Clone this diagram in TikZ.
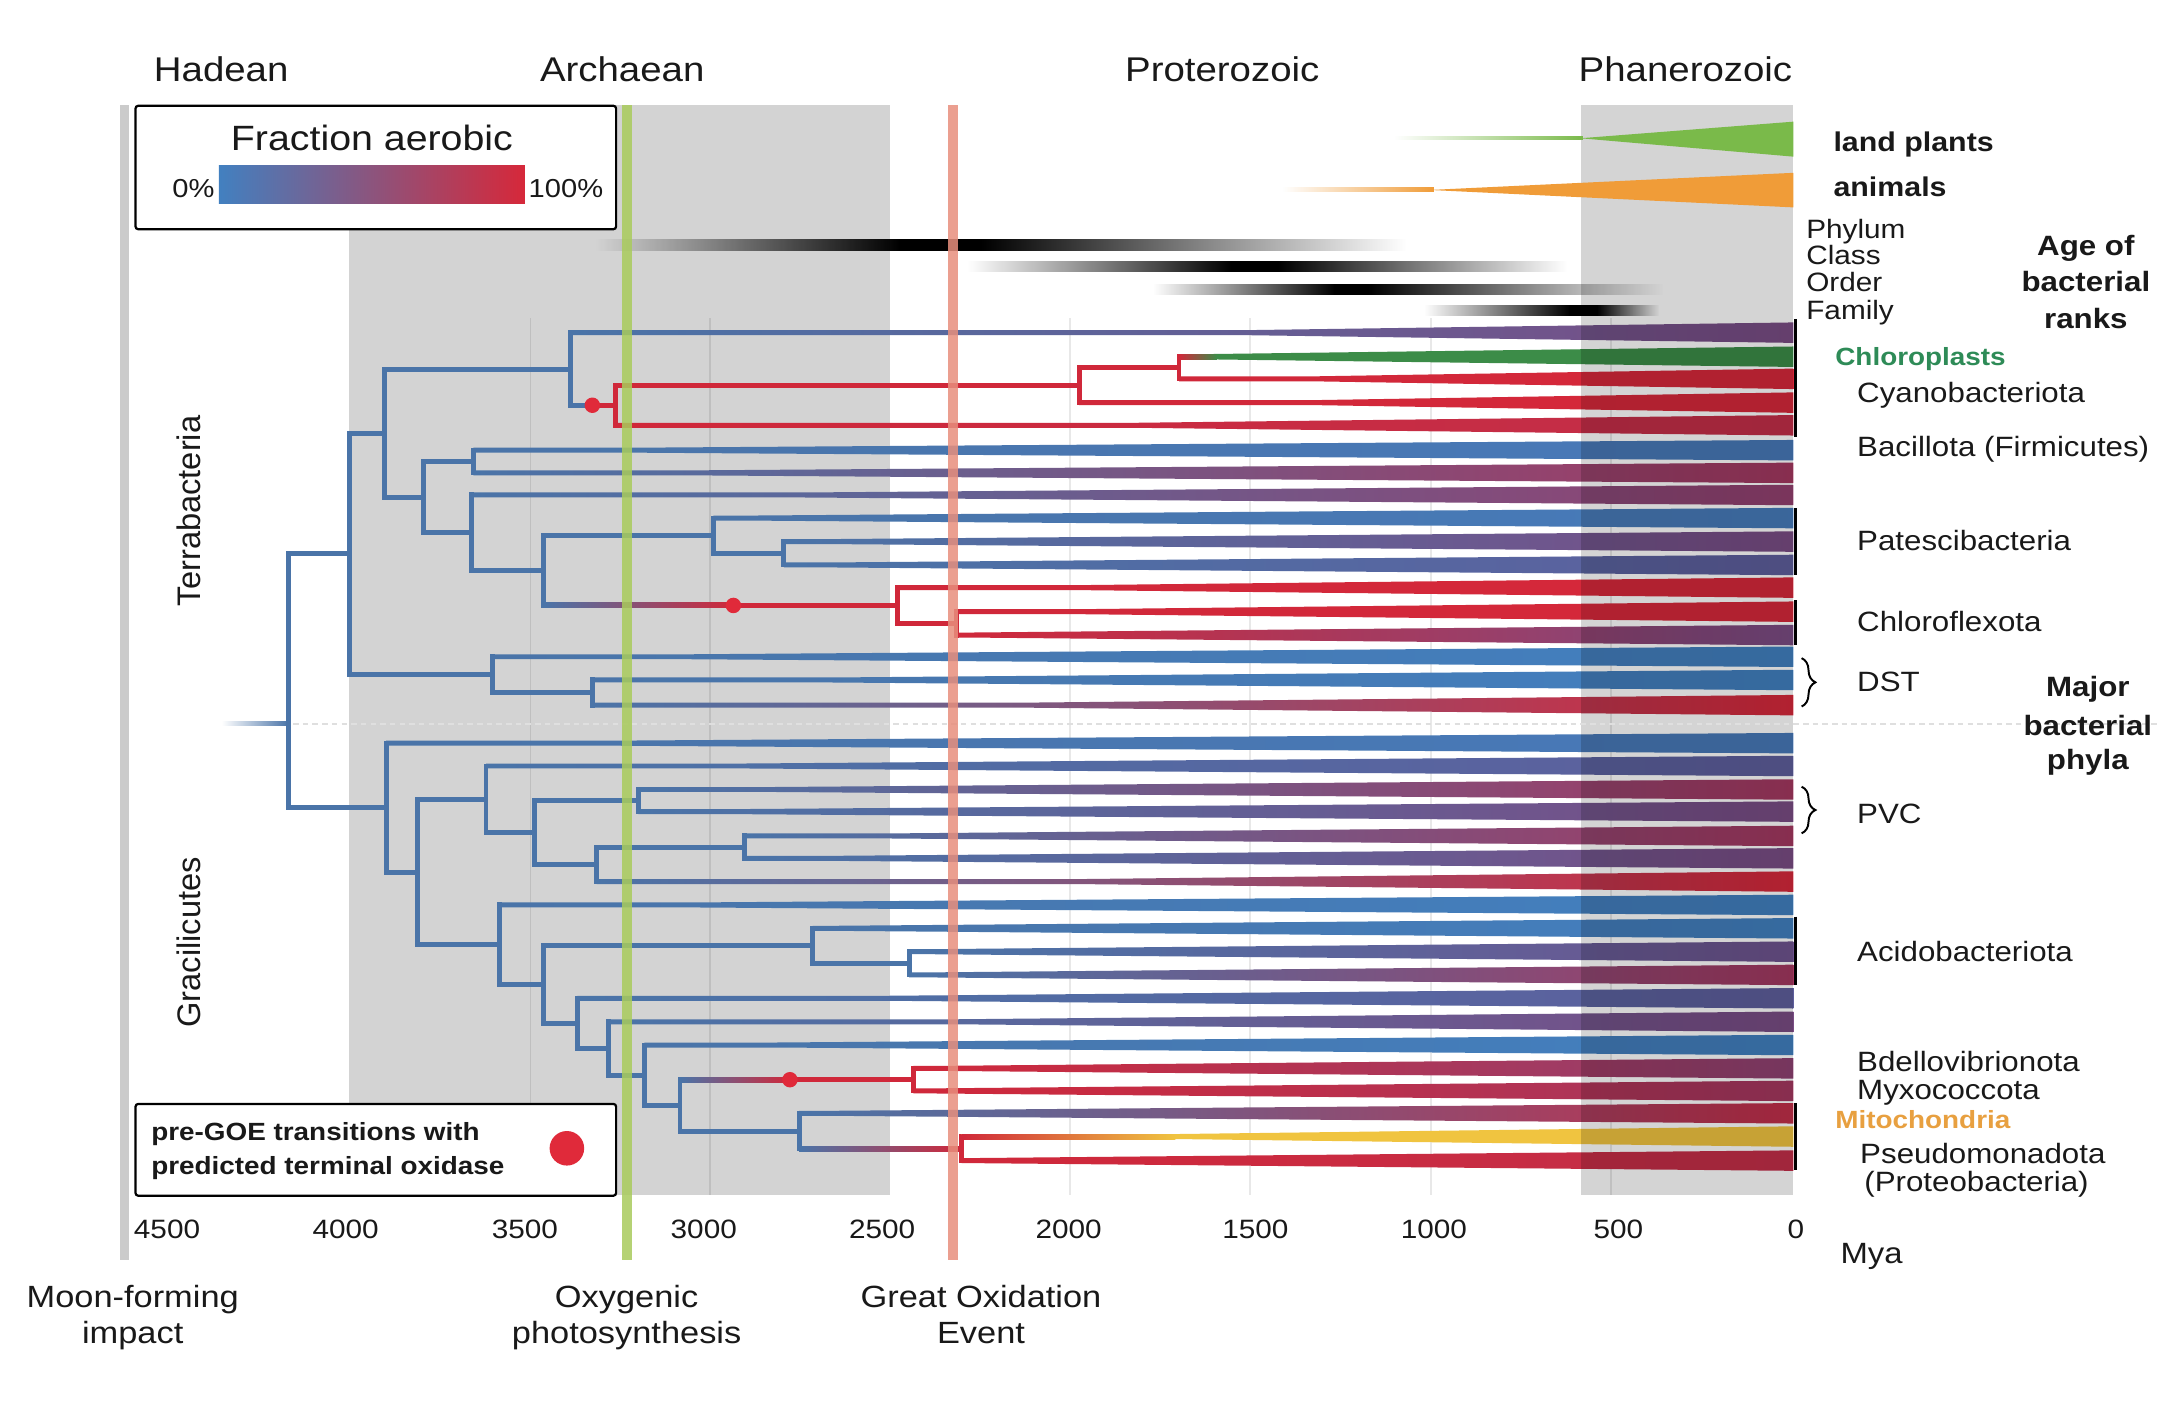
\documentclass[tikz,border=0pt]{standalone}
\usepackage{fontspec}
\setmainfont{Liberation Sans}
\usepackage{graphicx}
\usetikzlibrary{calc,fadings,decorations.pathreplacing}

\definecolor{blueB}{RGB}{74,116,168}
\definecolor{redR}{RGB}{208,40,58}
\definecolor{a0}{RGB}{66,128,192}
\definecolor{a25}{RGB}{94,94,156}
\definecolor{a50}{RGB}{122,76,132}
\definecolor{a75}{RGB}{164,56,96}
\definecolor{a100}{RGB}{214,40,58}
\definecolor{boxgray}{RGB}{211,211,211}
\definecolor{chlgreen}{RGB}{60,140,72}
\definecolor{chltext}{RGB}{46,139,87}
\definecolor{mitoyel}{RGB}{240,196,64}
\definecolor{mitoorg}{RGB}{238,130,50}
\definecolor{mitotext}{RGB}{232,160,64}
\definecolor{lpgreen}{RGB}{122,186,74}
\definecolor{anorange}{RGB}{240,156,56}
\definecolor{oxgreen}{RGB}{169,203,92}
\definecolor{goered}{RGB}{232,143,125}
\definecolor{moongray}{RGB}{203,203,203}
\definecolor{dotred}{RGB}{224,42,58}

\tikzfading[name=fadeL, left color=transparent!100, right color=transparent!0]
\tikzfading[name=fadeR, left color=transparent!0, right color=transparent!100]

\newcommand\sx[1]{\scalebox{1.12}[1]{#1}}
\newcommand\fsz[1]{\fontsize{#1}{#1}\selectfont}
% leaf wedge: #1 parent, #2 leaf, #3 x where widening starts, #4 start colour, #5 end colour
\newcommand\lw[5]{%
  \draw[br,#4] (#1) -- (#1 |- #2);
  \shade[left color=#4,right color=#5]
    ($(#1 |- #2)+(0,-1.8)$) -- ($(#2)+({#3-1297},-1.8)$) -- ($(#2)+(0,-7.4)$)
    -- ($(#2)+(0,7.4)$) -- ($(#2)+({#3-1297},1.8)$) -- ($(#1 |- #2)+(0,1.8)$) -- cycle;}

\begin{document}
\begin{tikzpicture}[x=0.5pt,y=-0.5pt,
  br/.style={line width=1.8pt,line cap=rect,line join=miter},
  txt/.style={inner sep=0pt,anchor=base,text=black!90},
  reddot/.style={circle,fill=dotred,inner sep=0pt,minimum size=5.6pt},
  legbox/.style={draw=black,line width=0.8pt,fill=white,rounded corners=1pt},
  evline/.style={line width=3.7pt,opacity=0.85},
  gridln/.style={draw=black,draw opacity=0.09,line width=0.5pt},
  brc/.style={decorate,decoration={brace,amplitude=5pt},line width=0.7pt}]

\useasboundingbox[fill=white] (0,0) rectangle (1568,1031);

% Archaean background
\fill[boxgray] (252.3,76) rectangle (643.5,864.3);
% grid lines
\foreach \gx in {383.5,513.5,774,904,1035,1165}
  \draw[gridln] (\gx,230) -- (\gx,864);

% ---------- tree coordinates ----------
\foreach \i/\y in {0/240.6,1/258,2/274,3/291.2,4/307.6,5/325.6,6/342,7/358,8/374.7,
  9/391.7,10/408.6,11/425,12/442.4,13/459.3,14/475,15/491.8,16/510,
  17/537.5,18/554,19/571,20/587,21/604.6,22/620.8,23/637.6,24/654.5,25/671.4,
  26/688.3,27/705.1,28/722,29/739,30/755.8,31/772.7,32/789,33/805.2,34/822,35/839.4}
  \coordinate (L\i) at (1297,\y);

\coordinate (R) at (208.5,523.5);
\coordinate (T) at (252.5,400.6);
\coordinate (A) at (278,313.2);
\coordinate (B) at (412.7,266.9);
\coordinate (Cy) at (445.5,293.1);
\coordinate (Cy2) at (780.4,278.6);
\coordinate (Cy3) at (852.7,266);
\coordinate (C) at (306,359.6);
\coordinate (Ba) at (342.3,333.8);
\coordinate (E) at (341,385.3);
\coordinate (F) at (393.4,412.7);
\coordinate (G) at (516,387.4);
\coordinate (H) at (567,400.2);
\coordinate (Ch) at (649.2,437.9);
\coordinate (Ch2) at (692,450.9);
\coordinate (D1) at (356.3,488);
\coordinate (D2) at (428.4,500.9);
\coordinate (Gr) at (279.2,584.1);
\coordinate (P1) at (301.8,630.7);
\coordinate (P2) at (351.5,578);
\coordinate (P3) at (386.4,602.1);
\coordinate (P4) at (461.7,579);
\coordinate (P5) at (431.5,625.2);
\coordinate (P6) at (538.3,612.7);
\coordinate (Q1) at (361,683.3);
\coordinate (Q2) at (393.4,712.1);
\coordinate (Ac) at (587.8,684);
\coordinate (Ac2) at (657.6,696.7);
\coordinate (Q3) at (417.5,740.2);
\coordinate (Q4) at (440,758.3);
\coordinate (Q5) at (466,777.6);
\coordinate (Q6) at (491.8,799.4);
\coordinate (My) at (660.6,780.9);
\coordinate (Ps) at (577.9,818);
\coordinate (Mi) at (695.5,830.7);
\coordinate (d1) at (428.4,293.1);
\coordinate (d2) at (530.4,437.9);
\coordinate (d3) at (571.3,780.9);

% ---------- leaf wedges ----------
\lw{B}{L0}{900}{blueB}{a50}
% chloroplasts
\draw[br,redR] (Cy3) -- (Cy3 |- L1);
\fill[chlgreen] ($(Cy3 |- L1)+(0,-1.8)$) -- ($(L1)+({865-1297},-1.8)$) -- ($(L1)+(0,-7.4)$)
  -- ($(L1)+(0,7.4)$) -- ($(L1)+({865-1297},1.8)$) -- ($(Cy3 |- L1)+(0,1.8)$) -- cycle;
\shade[left color=redR,right color=chlgreen] ($(Cy3 |- L1)+(0,-1.8)$) rectangle ($(L1)+({880-1297},1.8)$);
\lw{Cy3}{L2}{950}{redR}{a100}
\lw{Cy2}{L3}{950}{redR}{a100}
\lw{Cy}{L4}{820}{redR}{a75!40!a100}
\lw{Ba}{L5}{460}{blueB}{a0!80!a25}
\lw{Ba}{L6}{500}{blueB}{a75}
\lw{E}{L7}{580}{blueB}{a75!60!a50}
\lw{G}{L8}{540}{blueB}{a0!85!a25}
\lw{H}{L9}{600}{blueB}{a50}
\lw{H}{L10}{600}{blueB}{a25}
\lw{Ch}{L11}{780}{redR}{a100}
\lw{Ch2}{L12}{780}{redR}{a100}
\lw{Ch2}{L13}{700}{redR}{a50}
\lw{D1}{L14}{500}{blueB}{a0}
\lw{D2}{L15}{600}{blueB}{a0}
\lw{D2}{L16}{740}{blueB}{a100}
\lw{Gr}{L17}{440}{blueB}{a0!80!a25}
\lw{P2}{L18}{540}{blueB}{a25}
\lw{P4}{L19}{560}{blueB}{a75}
\lw{P4}{L20}{530}{blueB}{a50}
\lw{P6}{L21}{640}{blueB}{a75}
\lw{P6}{L22}{600}{blueB}{a50}
\lw{P5}{L23}{780}{blueB}{a100}
\lw{Q1}{L24}{500}{blueB}{a0}
\lw{Ac}{L25}{600}{blueB}{a0}
\lw{Ac2}{L26}{670}{blueB}{a50!60!a25}
\lw{Ac2}{L27}{670}{blueB}{a75}
\lw{Q3}{L28}{640}{blueB}{a25}
\lw{Q4}{L29}{690}{blueB}{a50}
\lw{Q5}{L30}{560}{blueB}{a0}
\lw{My}{L31}{680}{redR}{a50!50!a75}
\lw{My}{L32}{670}{redR}{a75}
\lw{Ps}{L33}{600}{blueB}{a75!40!a100}
% mitochondria
\draw[br,redR] (Mi) -- (Mi |- L34);
\fill[mitoyel] ($(Mi |- L34)+(0,-1.8)$) -- ($(L34)+({850-1297},-1.8)$) -- ($(L34)+(0,-7.4)$)
  -- ($(L34)+(0,7.4)$) -- ($(L34)+({850-1297},1.8)$) -- ($(Mi |- L34)+(0,1.8)$) -- cycle;
\shade[left color=redR,middle color=mitoorg,right color=mitoyel] ($(Mi |- L34)+(0,-1.8)$) rectangle ($(L34)+({850-1297},1.8)$);
\lw{Mi}{L35}{700}{redR}{a75!40!a100}

% ---------- interior branches ----------
\foreach \p/\c in {R/T,R/Gr,T/A,T/D1,A/B,A/C,C/Ba,C/E,E/F,F/G,G/H,D1/D2,Gr/P1,P1/P2,P1/Q1,
  P2/P3,P3/P4,P3/P5,P5/P6,Q1/Q2,Q2/Ac,Q2/Q3,Ac/Ac2,Q3/Q4,Q4/Q5,Q5/Q6,Q6/Ps}
  \draw[br,blueB] (\p) |- (\c);
\foreach \p/\c in {Cy/Cy2,Cy2/Cy3,Ch/Ch2}
  \draw[br,redR] (\p) |- (\c);
% branches changing colour
\draw[br,blueB] (B) |- (d1);
\draw[br,redR] (d1) -- (Cy);
\draw[br,blueB] (F) -- (F |- Ch);
\shade[left color=blueB,right color=redR] ($(F |- Ch)+(0,-1.8)$) rectangle ($(d2)+(0,1.8)$);
\draw[br,redR] (d2) -- (Ch);
\draw[br,blueB] (Q6) -- (Q6 |- My);
\shade[left color=blueB,right color=redR] ($(Q6 |- My)+(0,-1.8)$) rectangle ($(d3)+(0,1.8)$);
\draw[br,redR] (d3) -- (My);
\draw[br,blueB] (Ps) -- (Ps |- Mi);
\shade[left color=blueB,right color=redR] ($(Ps |- Mi)+(0,-1.8)$) rectangle ($(Mi)+(0,1.8)$);
% root stub
\fill[blueB,path fading=fadeL] ($(R)+(-48,-1.8)$) rectangle ($(R)+(0,1.8)$);
% pre-GOE transitions
\node[reddot] (dot1) at (d1) {};
\node[reddot] (dot2) at (d2) {};
\node[reddot] (dot3) at (d3) {};

% phylum bars at the tips
\foreach \ya/\yb in {231/316,367.5/416,434/466.5,663/712.4,798/846}
  \draw[line width=1.3pt] (1298.5,\ya) -- (1298.5,\yb);

% Phanerozoic shading (multiplies what lies below)
\fill[black,opacity=0.17] (1143.5,76) rectangle (1297,864.3);

% dashed separator
\draw[gray!25,line width=0.6pt,dash pattern=on 2pt off 1.5pt] (212,523.5) -- (1560,523.5);

% land plants and animals
\fill[lpgreen,path fading=fadeL] (1009,98.4) rectangle (1145,101.6);
\fill[lpgreen] (1143,100) -- (1297,88) -- (1297,113.3) -- cycle;
\fill[anorange,path fading=fadeL] (928,135.6) rectangle (1037,139.2);
\fill[anorange] (1034,137.4) -- (1297,125) -- (1297,150) -- cycle;

% age of bacterial ranks
\fill[black,path fading=fadeL] (431,173.2) rectangle (650,181.2);
\fill[black] (650,173.2) rectangle (710,181.2);
\fill[black,path fading=fadeR] (710,173.2) rectangle (1017,181.2);
\fill[black,path fading=fadeL] (700,189) rectangle (890,197);
\fill[black] (890,189) rectangle (925,197);
\fill[black,path fading=fadeR] (925,189) rectangle (1133,197);
\fill[black,path fading=fadeL] (834,205.7) rectangle (965,213.7);
\fill[black] (965,205.7) rectangle (990,213.7);
\fill[black,path fading=fadeR] (990,205.7) rectangle (1203,213.7);
\fill[black,path fading=fadeL] (1030,220.7) rectangle (1135,228.7);
\fill[black] (1135,220.7) rectangle (1155,228.7);
\fill[black,path fading=fadeR] (1155,220.7) rectangle (1200,228.7);

% event lines
\draw[moongray,line width=3pt] (90,76) -- (90,911);
\draw[evline,oxgreen] (453.2,76) -- (453.2,911);
\draw[evline,goered] (689.5,76) -- (689.5,911);

% braces
\draw[brc] (1303,476) -- (1303,511);
\draw[brc] (1303,569) -- (1303,602.7);

% legends
\draw[legbox] (98,76.5) rectangle (445.6,165.8);
\shade[left color=a0,middle color=a50,right color=a100] (158.3,120) rectangle (379.6,147.5);
\node[txt,font=\fsz{12.7}] (fa) at (269,108.5) {\sx{Fraction aerobic}};
\node[txt,anchor=base east,font=\fsz{9.4}] (p0) at (155.5,142.5) {\sx{0\%}};
\node[txt,anchor=base west,font=\fsz{9.4}] (p100) at (382,142.5) {\sx{100\%}};

\draw[legbox] (98,798.4) rectangle (445.6,864.8);
\node[txt,anchor=base west,font=\fsz{9}\bfseries] (lg1) at (109,824.5) {\sx{pre-GOE transitions with}};
\node[txt,anchor=base west,font=\fsz{9}\bfseries] (lg2) at (109,849.8) {\sx{predicted terminal oxidase}};
\node[circle,fill=dotred,inner sep=0pt,minimum size=12.5pt] (lgdot) at (410,830.5) {};

% eras
\node[txt,font=\fsz{12.4}] (hadean) at (160,59) {\sx{Hadean}};
\node[txt,font=\fsz{12.4}] (archaean) at (450,59) {\sx{Archaean}};
\node[txt,font=\fsz{12.4}] (proterozoic) at (884,59) {\sx{Proterozoic}};
\node[txt,font=\fsz{12.4}] (phanerozoic) at (1219,59) {\sx{Phanerozoic}};

% axis
\foreach \v/\xx in {4500/120.8,4000/250,3500/379.6,3000/509,2500/638,2000/772.9,1500/908,1000/1037,500/1170.5,0/1298.8}
  \node[txt,font=\fsz{9.6}] (tick\v) at (\xx,895.6) {\sx{\v}};
\node[txt,font=\fsz{10.6}] (mya) at (1353.6,913.6) {\sx{Mya}};

% events
\node[txt,font=\fsz{11.1}] (moon1) at (96,946) {\sx{Moon-forming}};
\node[txt,font=\fsz{11.1}] (moon2) at (96,971.5) {\sx{impact}};
\node[txt,font=\fsz{11.1}] (oxy1) at (453.2,946) {\sx{Oxygenic}};
\node[txt,font=\fsz{11.1}] (oxy2) at (453.2,971.5) {\sx{photosynthesis}};
\node[txt,font=\fsz{11.1}] (goe1) at (709.5,946) {\sx{Great Oxidation}};
\node[txt,font=\fsz{11.1}] (goe2) at (709.5,971.5) {\sx{Event}};

% superphyla
\node[inner sep=0pt,rotate=90,font=\fsz{11.8},text=black!90] (terra) at (136.6,369.5) {Terrabacteria};
\node[inner sep=0pt,rotate=90,font=\fsz{11.8},text=black!90] (graci) at (136.6,681.5) {Gracilicutes};

% right-hand labels
\node[txt,anchor=base west,font=\fsz{9.8}\bfseries] (lp) at (1325.7,109.7) {\sx{land plants}};
\node[txt,anchor=base west,font=\fsz{9.8}\bfseries] (an) at (1325.7,142.2) {\sx{animals}};
\node[txt,anchor=base west,font=\fsz{9.6}] (rk1) at (1306,172.5) {\sx{Phylum}};
\node[txt,anchor=base west,font=\fsz{9.6}] (rk2) at (1306,191.5) {\sx{Class}};
\node[txt,anchor=base west,font=\fsz{9.6}] (rk3) at (1306,211) {\sx{Order}};
\node[txt,anchor=base west,font=\fsz{9.6}] (rk4) at (1306,231) {\sx{Family}};
\node[txt,font=\fsz{10.1}\bfseries] (ab1) at (1508.6,184.5) {\sx{Age of}};
\node[txt,font=\fsz{10.1}\bfseries] (ab2) at (1508.6,210.5) {\sx{bacterial}};
\node[txt,font=\fsz{10.1}\bfseries] (ab3) at (1508.6,237.5) {\sx{ranks}};
\node[txt,font=\fsz{10.1}\bfseries] (mb1) at (1510,503.8) {\sx{Major}};
\node[txt,font=\fsz{10.1}\bfseries] (mb2) at (1510,531.6) {\sx{bacterial}};
\node[txt,font=\fsz{10.1}\bfseries] (mb3) at (1510,556.9) {\sx{phyla}};

\node[txt,anchor=base west,font=\fsz{9}\bfseries,text=chltext] (chl) at (1327,264) {\sx{Chloroplasts}};
\node[txt,anchor=base west,font=\fsz{10.1}] (cya) at (1342.8,291) {\sx{Cyanobacteriota}};
\node[txt,anchor=base west,font=\fsz{10.1}] (bac) at (1342.8,330.3) {\sx{Bacillota (Firmicutes)}};
\node[txt,anchor=base west,font=\fsz{10.1}] (pat) at (1342.8,397.8) {\sx{Patescibacteria}};
\node[txt,anchor=base west,font=\fsz{10.1}] (chf) at (1342.8,456.8) {\sx{Chloroflexota}};
\node[txt,anchor=base west,font=\fsz{10.1}] (dst) at (1342.8,500.2) {\sx{DST}};
\node[txt,anchor=base west,font=\fsz{10.1}] (pvc) at (1342.8,595.5) {\sx{PVC}};
\node[txt,anchor=base west,font=\fsz{10.1}] (aci) at (1342.8,695.5) {\sx{Acidobacteriota}};
\node[txt,anchor=base west,font=\fsz{10.1}] (bde) at (1342.8,775) {\sx{Bdellovibrionota}};
\node[txt,anchor=base west,font=\fsz{10.1}] (myx) at (1342.8,795.5) {\sx{Myxococcota}};
\node[txt,anchor=base west,font=\fsz{9}\bfseries,text=mitotext] (mit) at (1327,816) {\sx{Mitochondria}};
\node[txt,anchor=base west,font=\fsz{10.1}] (pse) at (1345,841.4) {\sx{Pseudomonadota}};
\node[txt,anchor=base west,font=\fsz{10.1}] (pro) at (1348,862) {\sx{(Proteobacteria)}};
\end{tikzpicture}
\end{document}
